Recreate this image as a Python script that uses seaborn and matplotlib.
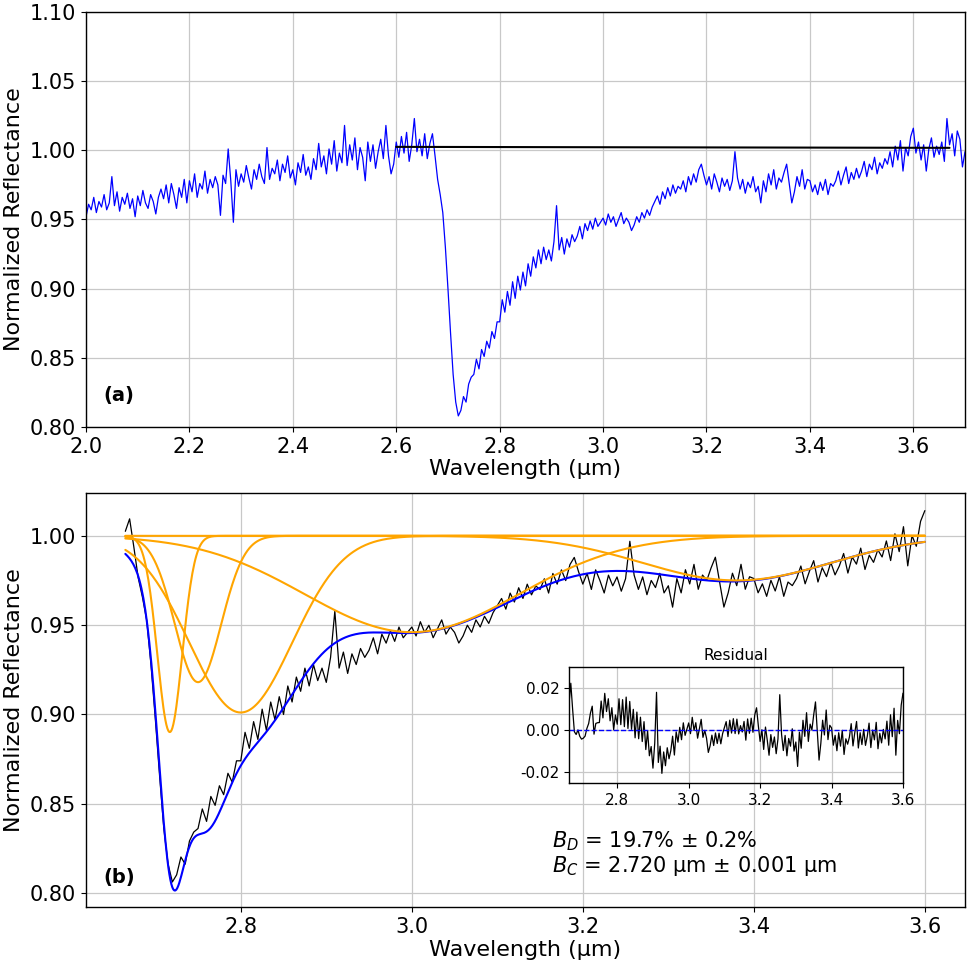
import numpy as np
import pandas as pd
import matplotlib
matplotlib.use("Agg")
import matplotlib.pyplot as plt
import seaborn as sns

# ---------------- data ----------------
WL_START = 2.000          # first wavelength of the spectrum (um)
WL_STEP = 0.005           # sampling step (um)
reflectance = [
    0.952, 0.961, 0.957, 0.966, 0.955, 0.963, 0.959, 0.968, 0.957, 0.962,
    0.981, 0.960, 0.970, 0.956, 0.966, 0.961, 0.969, 0.958, 0.965, 0.952,
    0.967, 0.960, 0.971, 0.962, 0.958, 0.968, 0.963, 0.954, 0.966, 0.972,
    0.965, 0.975, 0.962, 0.976, 0.968, 0.958, 0.973, 0.966, 0.979, 0.962,
    0.978, 0.970, 0.983, 0.966, 0.976, 0.972, 0.985, 0.969, 0.979, 0.973,
    0.981, 0.975, 0.953, 0.982, 0.976, 1.001, 0.978, 0.948, 0.986, 0.974,
    0.983, 0.977, 0.989, 0.980, 0.972, 0.986, 0.979, 0.990, 0.981, 0.976,
    1.002, 0.979, 0.987, 0.983, 0.993, 0.978, 0.990, 0.984, 0.996, 0.980,
    0.986, 0.975, 0.991, 0.984, 0.997, 0.982, 0.988, 0.979, 0.994, 0.986,
    1.005, 0.988, 0.996, 0.983, 1.001, 0.990, 1.007, 0.985, 0.998, 0.991,
    1.018, 0.989, 1.004, 0.993, 1.009, 0.986, 1.002, 0.995, 0.978, 1.006,
    0.992, 1.004, 0.987, 0.999, 1.008, 0.994, 1.018, 0.996, 0.983, 0.990,
    1.006, 0.995, 1.010, 0.998, 1.013, 0.992, 1.004, 1.023, 0.999, 1.008,
    0.996, 1.012, 0.994, 1.005, 1.012, 0.996, 0.979, 0.968, 0.955, 0.930,
    0.900, 0.868, 0.838, 0.818, 0.808, 0.812, 0.822, 0.818, 0.831, 0.836,
    0.838, 0.849, 0.842, 0.856, 0.851, 0.862, 0.857, 0.869, 0.864, 0.876,
    0.876, 0.892, 0.883, 0.898, 0.888, 0.905, 0.893, 0.909, 0.899, 0.912,
    0.902, 0.918, 0.909, 0.923, 0.915, 0.928, 0.918, 0.930, 0.921, 0.928,
    0.920, 0.934, 0.960, 0.928, 0.937, 0.925, 0.936, 0.930, 0.939, 0.934,
    0.938, 0.945, 0.936, 0.947, 0.942, 0.949, 0.943, 0.951, 0.945, 0.948,
    0.951, 0.946, 0.954, 0.948, 0.952, 0.945, 0.950, 0.955, 0.947, 0.951,
    0.948, 0.942, 0.946, 0.952, 0.948, 0.955, 0.951, 0.957, 0.953, 0.959,
    0.963, 0.967, 0.961, 0.970, 0.965, 0.973, 0.967, 0.975, 0.969, 0.974,
    0.972, 0.978, 0.970, 0.981, 0.975, 0.983, 0.977, 0.986, 0.990, 0.982,
    0.975, 0.981, 0.972, 0.983, 0.977, 0.970, 0.980, 0.974, 0.979, 0.971,
    0.978, 0.999, 0.980, 0.972, 0.979, 0.969, 0.977, 0.973, 0.981, 0.970,
    0.974, 0.962, 0.978, 0.970, 0.983, 0.975, 0.986, 0.972, 0.980, 0.977,
    0.984, 0.990, 0.976, 0.962, 0.970, 0.981, 0.974, 0.986, 0.972, 0.979,
    0.978, 0.970, 0.975, 0.968, 0.977, 0.971, 0.979, 0.968, 0.976, 0.974,
    0.978, 0.985, 0.975, 0.982, 0.988, 0.976, 0.984, 0.979, 0.987, 0.980,
    0.985, 0.992, 0.981, 0.990, 0.986, 0.995, 0.983, 0.991, 0.987, 0.994,
    0.990, 0.999, 0.988, 1.003, 0.993, 1.007, 0.985, 1.002, 0.996, 1.010,
    1.016, 0.998, 1.006, 0.993, 1.004, 0.985, 1.001, 1.009, 0.995, 1.003,
    0.997, 1.006, 0.992, 1.023, 1.004, 1.012, 0.996, 1.014, 1.008, 0.988,
    0.999,
]

# linear continuum drawn in panel (a)
continuum_wl = [2.60, 3.67]
continuum_refl = [1.0025, 1.0018]

# wavelength range of the band analysis (panel b)
band_range = [2.665, 3.600]

# fitted Gaussian absorption components (centre, depth, width in um)
band_centers = [2.717, 2.750, 2.800, 3.000, 3.380]
band_depths = [0.110, 0.082, 0.099, 0.054, 0.025]
band_widths = [0.0145, 0.027, 0.060, 0.125, 0.110]

panel_labels = ["(a)", "(b)"]
band_depth_text = r"$B_D$ = 19.7% ± 0.2%"
band_center_text = r"$B_C$ = 2.720 µm ± 0.001 µm"

# ---------------- derived series ----------------
refl = np.asarray(reflectance)
wl = np.round(WL_START + WL_STEP * np.arange(len(refl)), 4)
spec = pd.DataFrame({"wl": wl, "refl": refl})

mask = (wl >= band_range[0] - 1e-9) & (wl <= band_range[1] + 1e-9)
band = spec[mask].copy()
band["norm"] = band["refl"] / np.interp(band["wl"], continuum_wl, continuum_refl)


def component(x, c, d, s):
    return 1.0 - d * np.exp(-((x - c) ** 2) / (2.0 * s ** 2))


def model(x):
    tot = np.ones_like(x, dtype=float)
    for c, d, s in zip(band_centers, band_depths, band_widths):
        tot -= d * np.exp(-((x - c) ** 2) / (2.0 * s ** 2))
    return tot


fine_wl = np.linspace(band_range[0], band_range[1], 800)
band["resid"] = band["norm"] - model(band["wl"].to_numpy())

# ---------------- figure ----------------
sns.set_style("ticks")
plt.rcParams["font.family"] = ["DejaVu Sans"]
plt.rcParams["axes.edgecolor"] = "black"
plt.rcParams["axes.linewidth"] = 1.0
plt.rcParams["mathtext.fontset"] = "dejavusans"
plt.rcParams["text.color"] = "black"
plt.rcParams["axes.labelcolor"] = "black"
plt.rcParams["xtick.color"] = "black"
plt.rcParams["ytick.color"] = "black"

fig = plt.figure(figsize=(9.74, 9.68), dpi=100)
ax1 = fig.add_axes([0.0883, 0.5589, 0.9025, 0.4287])
ax2 = fig.add_axes([0.0883, 0.0630, 0.9025, 0.4277])
ax3 = fig.add_axes([0.5842, 0.1911, 0.3429, 0.1199])

grid_kw = dict(color="#c8c8c8", linewidth=0.9)

# panel (a)
sns.lineplot(data=spec, x="wl", y="refl", ax=ax1, color="blue", linewidth=0.9,
             estimator=None, sort=False)
sns.lineplot(x=continuum_wl, y=continuum_refl, ax=ax1, color="black", linewidth=1.5)
ax1.set_xlim(2.0, 3.7)
ax1.set_ylim(0.80, 1.10)
ax1.set_xticks(np.arange(2.0, 3.61, 0.2))
ax1.set_yticks(np.arange(0.80, 1.101, 0.05))
ax1.xaxis.set_major_formatter(matplotlib.ticker.FormatStrFormatter("%.1f"))
ax1.yaxis.set_major_formatter(matplotlib.ticker.FormatStrFormatter("%.2f"))
ax1.grid(True, **grid_kw)
ax1.set_xlabel("Wavelength (µm)", fontsize=16, labelpad=2, color="black")
ax1.set_ylabel("Normalized Reflectance", fontsize=16, color="black")
ax1.text(0.02, 0.077, panel_labels[0], transform=ax1.transAxes, fontsize=14,
         fontweight="bold", va="center", ha="left", color="black")

# panel (b)
sns.lineplot(data=band, x="wl", y="norm", ax=ax2, color="black", linewidth=0.9,
             estimator=None, sort=False)
sns.lineplot(x=fine_wl, y=model(fine_wl), ax=ax2, color="blue", linewidth=1.5)
for c, d, s in zip(band_centers, band_depths, band_widths):
    sns.lineplot(x=fine_wl, y=component(fine_wl, c, d, s), ax=ax2,
                 color="orange", linewidth=1.5)
ax2.set_xlim(2.619, 3.647)
ax2.set_ylim(0.792, 1.024)
ax2.set_xticks(np.arange(2.8, 3.61, 0.2))
ax2.set_yticks(np.arange(0.80, 1.001, 0.05))
ax2.xaxis.set_major_formatter(matplotlib.ticker.FormatStrFormatter("%.1f"))
ax2.yaxis.set_major_formatter(matplotlib.ticker.FormatStrFormatter("%.2f"))
ax2.grid(True, **grid_kw)
ax2.set_xlabel("Wavelength (µm)", fontsize=16, labelpad=2, color="black")
ax2.set_ylabel("Normalized Reflectance", fontsize=16, color="black")
ax2.text(0.02, 0.072, panel_labels[1], transform=ax2.transAxes, fontsize=14,
         fontweight="bold", va="center", ha="left", color="black")
ax2.text(3.1634, 0.8287, band_depth_text, fontsize=15, va="center", ha="left",
         color="black")
ax2.text(3.1634, 0.8148, band_center_text, fontsize=15, va="center", ha="left",
         color="black")

# inset: residual
ax3.set_facecolor("none")
sns.lineplot(data=band, x="wl", y="resid", ax=ax3, color="black", linewidth=0.9,
             estimator=None, sort=False)
ax3.axhline(0.0, color="blue", linestyle="--", linewidth=1.0)
ax3.set_xlim(band_range[0], band_range[1])
ax3.set_ylim(-0.0253, 0.030)
ax3.set_xticks(np.arange(2.8, 3.61, 0.2))
ax3.set_yticks([-0.02, 0.0, 0.02])
ax3.xaxis.set_major_formatter(matplotlib.ticker.FormatStrFormatter("%.1f"))
ax3.yaxis.set_major_formatter(matplotlib.ticker.FormatStrFormatter("%.2f"))
ax3.grid(True, **grid_kw)
ax3.set_xlabel("")
ax3.set_ylabel("")
ax3.set_title("Residual", fontsize=11, pad=5, color="black")

for ax, fs in ((ax1, 15), (ax2, 15), (ax3, 11)):
    ax.tick_params(axis="both", which="major", labelsize=fs, direction="out",
                   length=3.5, width=0.8, color="black", labelcolor="black")
    for sp in ax.spines.values():
        sp.set_visible(True)
        sp.set_color("black")
        sp.set_linewidth(1.0)

fig.savefig("out.png", dpi=100)
